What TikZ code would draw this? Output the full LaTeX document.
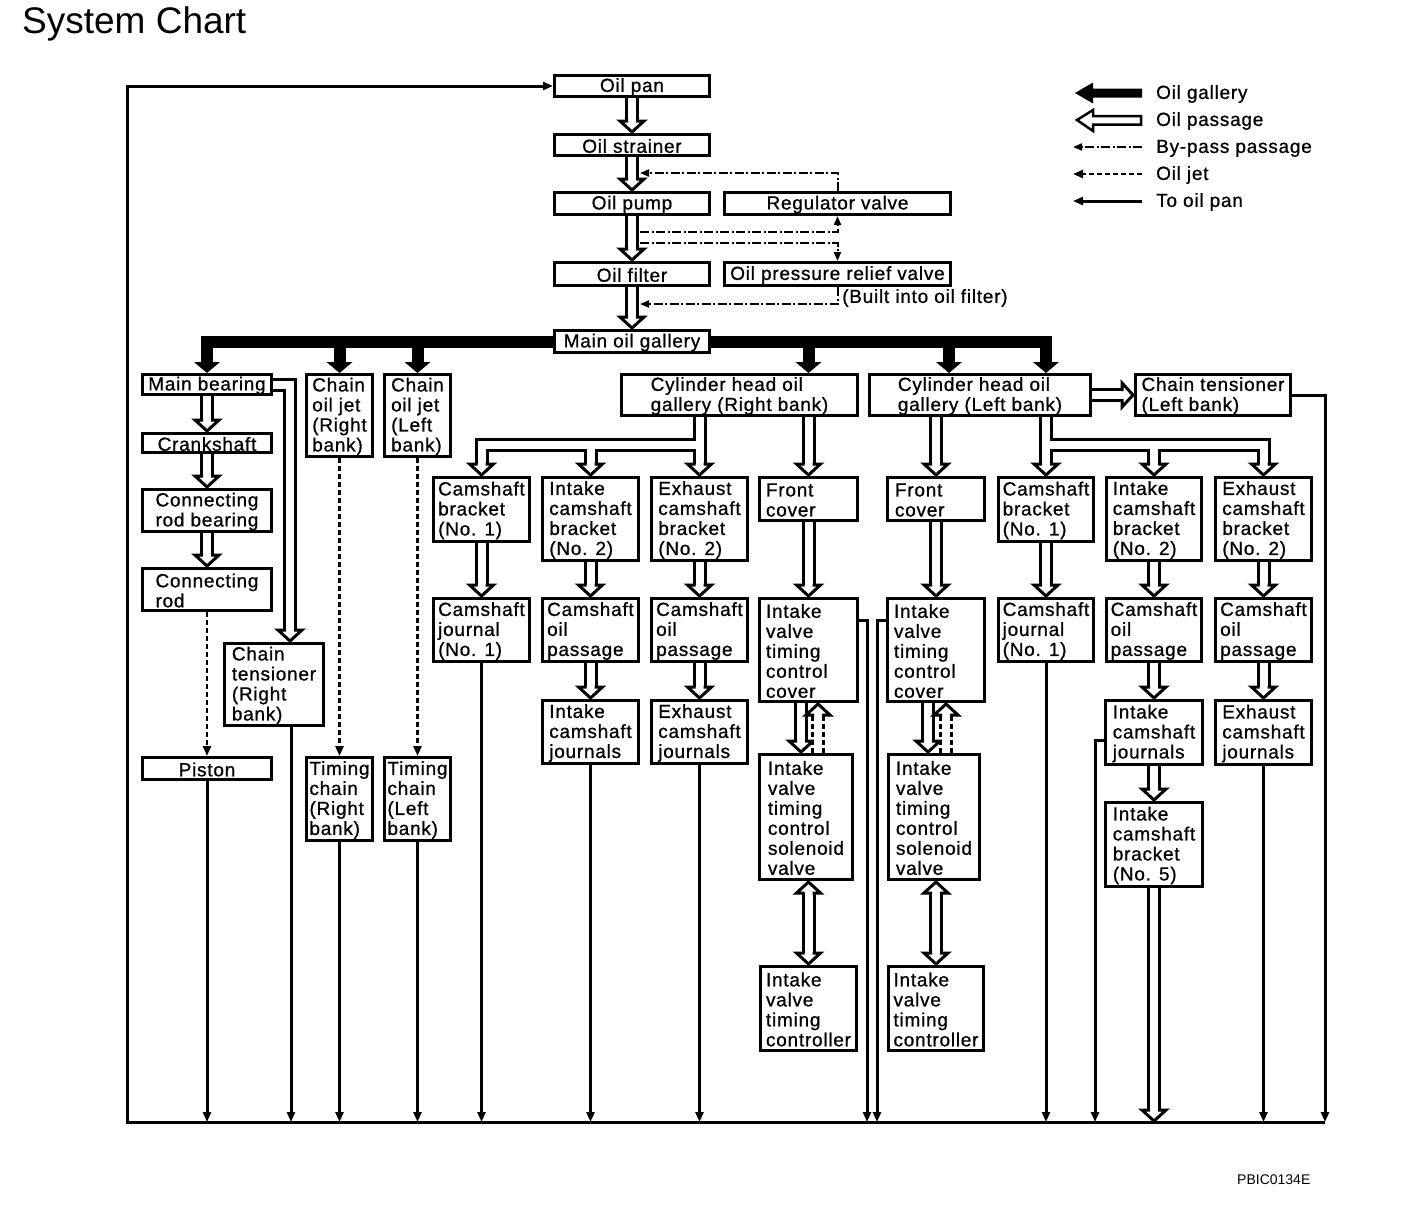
\documentclass[tikz,border=0pt]{standalone}
\usepackage{fontspec}
\setmainfont{Liberation Sans}[LetterSpace=4,FakeBold=0.8]
\newfontfamily\plainfont{Liberation Sans}
\usetikzlibrary{arrows.meta,backgrounds}
\newcommand\bx[7][]{\node[bx,minimum width={#5-#3-3},minimum height={#6-#4-3}] (#2) at ({(#3+#5)/2},{(#4+#6)/2}) {};
  \node[btxt,#1] (#2t) at ([yshift=-1pt]#2.center) {#7};}
\newcommand\SH[1]{\draw[shO] #1; \draw[shI] #1;}
\newcommand\SHd[1]{\draw[shO,dash pattern=on 5pt off 3pt] #1; \draw[shI] #1;}
\newcommand\HV[2]{\SH{(#1) -- ([yshift=12pt]#2)} \pic at (#2) {hh};}
\begin{document}
\begin{tikzpicture}[x=1pt,y=-1pt,
  font=\fontsize{19}{20}\selectfont,
  bx/.style={draw,line width=3pt,fill=white,inner sep=0pt,outer sep=1.5pt},
  btxt/.style={align=left,inner sep=0pt},
  shO/.style={line width=14pt,line join=miter},
  shI/.style={line width=8pt,white,line join=miter},
  topan/.style={line width=3pt,-{Triangle[length=10pt,width=8pt]}},
  jet/.style={line width=2.5pt,dash pattern=on 5pt off 3pt,-{Triangle[length=10pt,width=8pt]}},
  byp/.style={line width=2pt,dash pattern=on 9pt off 2.5pt on 2pt off 2.5pt,-{Triangle[length=9pt,width=7pt]}},
  hh/.pic={\fill[white] (-12,-12) -- (0,0) -- (12,-12) -- cycle;
    \draw[line width=3pt,line join=miter] (-4,-12) -- (-12,-12) -- (0,-1) -- (12,-12) -- (4,-12);},
  bh/.pic={\fill (-13,-11) -- (0,0) -- (13,-11) -- cycle;},
  lt/.style={anchor=west,text height=13.8pt,text depth=4pt,inner sep=0pt}
]
\useasboundingbox (0,0) rectangle (1408,1208);

% title and code
\node[anchor=base west,font=\plainfont\fontsize{37}{37}\selectfont,inner sep=0pt] (title) at (22,33) {System Chart};
\node[anchor=west,font=\plainfont\fontsize{14}{14}\selectfont,inner sep=0pt] (code) at (1237,1180) {PBIC0134E};

% boxes
\bx{pan}{553}{74}{711}{98}{Oil pan}
\bx{strainer}{553}{133}{711}{157}{Oil strainer}
\bx{pump}{553}{191}{711}{216}{Oil pump}
\bx{reg}{723}{191}{952}{216}{Regulator valve}
\bx{filter}{553}{261}{711}{287}{Oil filter}
\bx{relief}{723}{261}{952}{287}{Oil pressure relief valve}
\bx{gallery}{553}{329}{711}{354}{Main oil gallery}
\bx{mainb}{141}{373}{273}{396}{Main bearing}
\bx{crank}{141}{432}{273}{454}{Crankshaft}
\bx{crb}{141}{488}{273}{533}{Connecting\\rod bearing}
\bx{crod}{141}{567}{273}{612}{Connecting\\rod}
\bx{piston}{141}{756}{273}{781}{Piston}
\bx{ctr}{223}{642}{325}{727}{Chain\\tensioner\\(Right\\bank)}
\bx{cjr}{305}{373}{374}{458}{Chain\\oil jet\\(Right\\bank)}
\bx{cjl}{383}{373}{452}{458}{Chain\\oil jet\\(Left\\bank)}
\bx{tcr}{305}{756}{374}{842}{Timing\\chain\\(Right\\bank)}
\bx{tcl}{383}{756}{452}{842}{Timing\\chain\\(Left\\bank)}
\bx{chr}{620}{373}{859}{417}{Cylinder head oil\\gallery (Right bank)}
\bx{chl}{868}{373}{1092}{417}{Cylinder head oil\\gallery (Left bank)}
\bx{ctl}{1134}{373}{1292}{417}{Chain tensioner\\(Left bank)}
\bx{cb1r}{432}{476}{531}{543}{Camshaft\\bracket\\(No. 1)}
\bx{icb2r}{541}{476}{640}{562}{Intake\\camshaft\\bracket\\(No. 2)}
\bx{ecb2r}{650}{476}{749}{562}{Exhaust\\camshaft\\bracket\\(No. 2)}
\bx[text width=85pt]{fcr}{758}{476}{859}{522}{Front\\cover}
\bx{cj1r}{432}{597}{531}{663}{Camshaft\\journal\\(No. 1)}
\bx{copir}{541}{597}{640}{663}{Camshaft\\oil\\passage}
\bx{coper}{650}{597}{749}{663}{Camshaft\\oil\\passage}
\bx[text width=85pt]{ivccr}{758}{597}{859}{703}{Intake\\valve\\timing\\control\\cover}
\bx{icjr}{541}{699}{640}{765}{Intake\\camshaft\\journals}
\bx{ecjr}{650}{699}{749}{765}{Exhaust\\camshaft\\journals}
\bx{ivsr}{758}{753}{854}{881}{Intake\\valve\\timing\\control\\solenoid\\valve}
\bx{ivcr}{759}{965}{858}{1052}{Intake\\valve\\timing\\controller}
\bx[text width=82pt]{fcl}{886}{476}{986}{522}{Front\\cover}
\bx[text width=84pt]{ivccl}{886}{597}{986}{703}{Intake\\valve\\timing\\control\\cover}
\bx{ivsl}{887}{753}{981}{881}{Intake\\valve\\timing\\control\\solenoid\\valve}
\bx{ivcl}{887}{965}{985}{1052}{Intake\\valve\\timing\\controller}
\bx{cb1l}{997}{476}{1095}{543}{Camshaft\\bracket\\(No. 1)}
\bx{icb2l}{1105}{476}{1203}{562}{Intake\\camshaft\\bracket\\(No. 2)}
\bx{ecb2l}{1214}{476}{1313}{562}{Exhaust\\camshaft\\bracket\\(No. 2)}
\bx{cj1l}{997}{597}{1095}{663}{Camshaft\\journal\\(No. 1)}
\bx{copil}{1105}{597}{1203}{663}{Camshaft\\oil\\passage}
\bx{copel}{1214}{597}{1313}{663}{Camshaft\\oil\\passage}
\bx{icjl}{1104}{699}{1204}{766}{Intake\\camshaft\\journals}
\bx{ecjl}{1214}{699}{1313}{766}{Exhaust\\camshaft\\journals}
\bx{icb5l}{1104}{801}{1204}{888}{Intake\\camshaft\\bracket\\(No. 5)}

\node[lt] (bif) at (842,298) {(Built into oil filter)};

% legend texts
\node[lt] (lg1) at (1156,94) {Oil gallery};
\node[lt] (lg2) at (1156,121) {Oil passage};
\node[lt] (lg3) at (1156,148) {By-pass passage};
\node[lt] (lg4) at (1156,175) {Oil jet};
\node[lt] (lg5) at (1156,202) {To oil pan};

% helper coordinates
\coordinate (bl) at (127,1122);
\coordinate (br) at (1325,1122);
\coordinate (bR) at (867,1122);
\coordinate (bL) at (877,1122);
\coordinate (bI) at (1095,1122);
\coordinate (jr) at (699.5,445);
\coordinate (jl) at (1046,445);
\coordinate (dCR) at (fcr.north |- chr.north);
\coordinate (dCL1) at ([xshift=-31pt]chl.north);
\coordinate (dCL2) at (cb1l.north |- chl.north);
\coordinate (ctrin) at ([xshift=16pt]ctr.north);
\coordinate (ctrout) at ([xshift=17pt]ctr.south);
\coordinate (i5b) at (icb5l.south |- bl);
\coordinate (a1) at ([xshift=-7.5pt]ivccr.south);
\coordinate (a2) at (a1 |- ivsr.north);
\coordinate (b1) at ([xshift=9.5pt]ivccr.south);
\coordinate (b2) at (b1 |- ivsr.north);
\coordinate (c1) at (ivcr.north |- ivsr.south);
\coordinate (a3) at ([xshift=-8pt]ivccl.south);
\coordinate (a4) at (a3 |- ivsl.north);
\coordinate (b3) at ([xshift=10pt]ivccl.south);
\coordinate (b4) at (b3 |- ivsl.north);
\coordinate (c2) at (ivcl.north |- ivsl.south);
\coordinate (bp1) at (640,173);
\coordinate (bp2) at (640,232);
\coordinate (bp3) at (640,243);
\coordinate (bp4) at (640,304);

\begin{scope}[on background layer]
% main oil gallery bar and drops
\draw[line width=12pt,line cap=rect] (mainb.north |- gallery) -- (cb1l.north |- gallery);
\foreach \t in {mainb.north,cjr.north,cjl.north,dCR,dCL1,dCL2}{
  \draw[line width=12pt] (\t |- gallery) -- ([yshift=9pt]\t);
  \pic at (\t) {bh};
}
% oil passages
\HV{pan.south}{strainer.north}
\HV{strainer.south}{pump.north}
\HV{pump.south}{filter.north}
\HV{filter.south}{gallery.north}
\HV{mainb.south}{crank.north}
\HV{crank.south}{crb.north}
\HV{crb.south}{crod.north}
\SH{(mainb.east) -| ([yshift=12pt]ctrin)} \pic at (ctrin) {hh};
\SH{(chr.south -| ecb2r.north) -- ([yshift=12pt]ecb2r.north) (jr) -| ([yshift=12pt]cb1r.north) (jr -| icb2r.north) -- ([yshift=12pt]icb2r.north)}
\pic at (ecb2r.north) {hh}; \pic at (cb1r.north) {hh}; \pic at (icb2r.north) {hh};
\HV{chr.south -| fcr.north}{fcr.north}
\HV{fcr.south}{ivccr.north}
\HV{cb1r.south}{cj1r.north}
\HV{icb2r.south}{copir.north}
\HV{copir.south}{icjr.north}
\HV{ecb2r.south}{coper.north}
\HV{coper.south}{ecjr.north}
\HV{a1}{a2}
\SHd{(b2) -- ([yshift=-12pt]b1)} \pic[rotate=180] at (b1) {hh};
\SH{([yshift=-12pt]c1) -- ([yshift=12pt]ivcr.north)} \pic at (ivcr.north) {hh}; \pic[rotate=180] at (c1) {hh};
\HV{chl.south -| fcl.north}{fcl.north}
\HV{fcl.south}{ivccl.north}
\HV{a3}{a4}
\SHd{(b4) -- ([yshift=-12pt]b3)} \pic[rotate=180] at (b3) {hh};
\SH{([yshift=-12pt]c2) -- ([yshift=12pt]ivcl.north)} \pic at (ivcl.north) {hh}; \pic[rotate=180] at (c2) {hh};
\SH{(chl.south -| cb1l.north) -- ([yshift=12pt]cb1l.north) (jl) -| ([yshift=12pt]ecb2l.north) (jl -| icb2l.north) -- ([yshift=12pt]icb2l.north)}
\pic at (cb1l.north) {hh}; \pic at (ecb2l.north) {hh}; \pic at (icb2l.north) {hh};
\SH{(chl.east) -- ([xshift=-12pt]ctl.west)} \pic[rotate=90] at (ctl.west) {hh};
\HV{cb1l.south}{cj1l.north}
\HV{icb2l.south}{copil.north}
\HV{copil.south}{icjl.north}
\HV{icjl.south}{icb5l.north}
\HV{ecb2l.south}{copel.north}
\HV{copel.south}{ecjl.north}
\HV{icb5l.south}{i5b}
% by-pass
\draw[byp] (reg.north) |- (bp1);
\draw[byp] (bp2) -| (reg.south);
\draw[byp] (bp3) -| (relief.north);
\draw[byp] (relief.south) |- (bp4);
% oil jets
\draw[jet] (crod.south) -- (piston.north);
\draw[jet] (cjr.south) -- (tcr.north);
\draw[jet] (cjl.south) -- (tcl.north);
% to oil pan
\foreach \n in {piston,tcr,tcl,cj1r,icjr,ecjr,cj1l,ecjl}{\draw[topan] (\n.south) -- (\n.south |- bl);}
\draw[topan] (ctrout) -- (ctrout |- bl);
\draw[topan] ([yshift=30pt]ivccr.east) -| (bR);
\draw[topan] ([yshift=30pt]ivccl.west) -| (bL);
\draw[topan] ([yshift=-8pt]icjl.west) -| (bI);
\draw[topan] (ctl.east) -| (br);
\draw[topan] (br) -- (bl) |- (pan.west);
\end{scope}

% legend symbols
\fill (1075,93) -- (1093,82.5) -- (1093,88.5) -- (1142,88.5) -- (1142,97.5) -- (1093,97.5) -- (1093,103.5) -- cycle;
\draw[line width=2.5pt,fill=white,line join=miter] (1077,120) -- (1093,110) -- (1093,116) -- (1141,116) -- (1141,124.5) -- (1093,124.5) -- (1093,131) -- cycle;
\draw[byp] (1142,147) -- (1073,147);
\draw[jet] (1142,174) -- (1073,174);
\draw[topan] (1142,201) -- (1073,201);
\end{tikzpicture}
\end{document}
